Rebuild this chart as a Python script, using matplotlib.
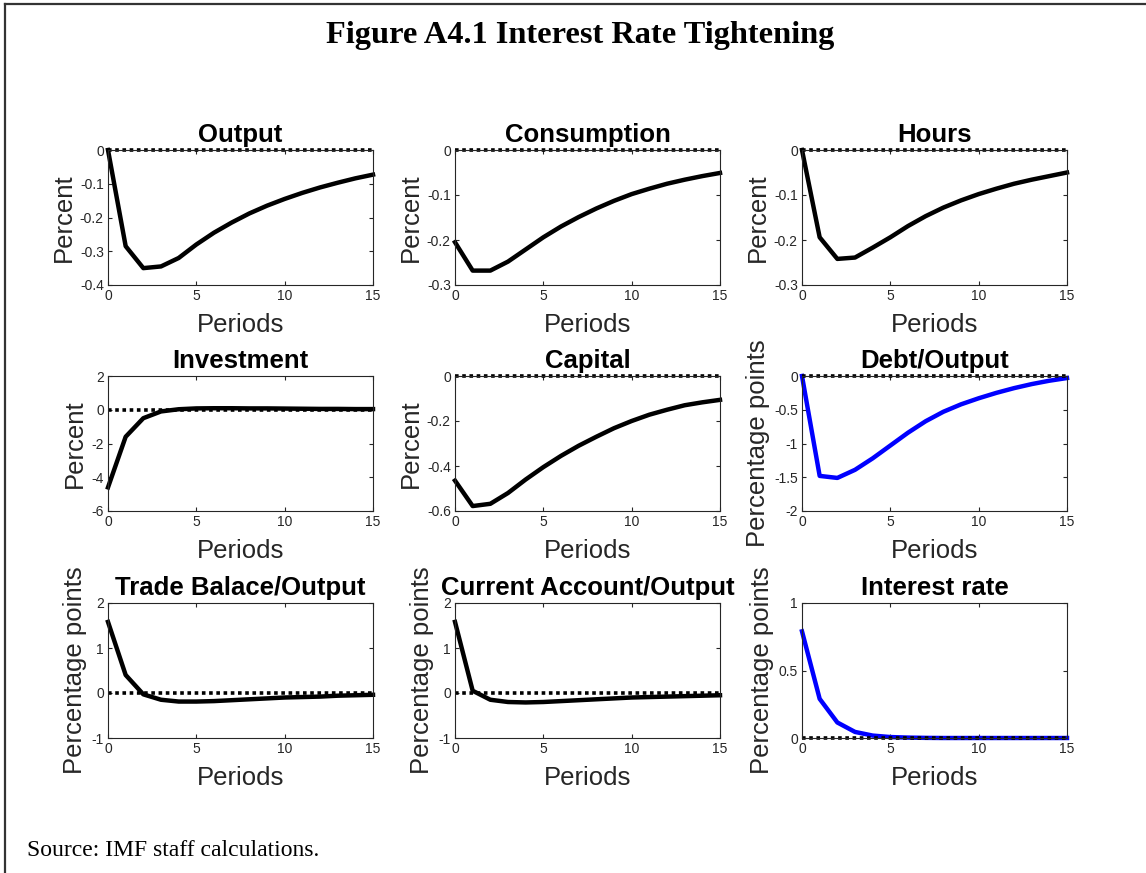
import matplotlib
matplotlib.use("Agg")
import matplotlib.pyplot as plt
from matplotlib.lines import Line2D
from matplotlib.ticker import FormatStrFormatter

plt.rcParams['font.family'] = ['Liberation Sans', 'DejaVu Sans']
plt.rcParams['axes.unicode_minus'] = False

# Periods after the shock
periods = list(range(16))

# Impulse responses
output = [0, -0.285, -0.35, -0.345, -0.32, -0.28, -0.245, -0.215, -0.188,
          -0.165, -0.145, -0.127, -0.111, -0.097, -0.084, -0.073]
consumption = [-0.205, -0.268, -0.268, -0.248, -0.221, -0.194, -0.17, -0.149,
               -0.13, -0.113, -0.098, -0.086, -0.075, -0.066, -0.058, -0.051]
hours = [0, -0.194, -0.242, -0.239, -0.217, -0.194, -0.169, -0.147, -0.128,
         -0.112, -0.098, -0.086, -0.075, -0.066, -0.058, -0.05]
investment = [-4.6, -1.6, -0.5, -0.1, 0.03, 0.08, 0.09, 0.09, 0.08, 0.08,
              0.07, 0.06, 0.05, 0.05, 0.04, 0.04]
capital = [-0.465, -0.578, -0.568, -0.52, -0.46, -0.405, -0.355, -0.31, -0.27,
           -0.232, -0.2, -0.172, -0.15, -0.13, -0.117, -0.106]
debt_output = [0, -1.48, -1.51, -1.39, -1.22, -1.03, -0.84, -0.67, -0.53,
               -0.42, -0.33, -0.25, -0.18, -0.12, -0.07, -0.03]
trade_balance = [1.58, 0.4, -0.03, -0.15, -0.19, -0.19, -0.18, -0.16, -0.14,
                 -0.12, -0.1, -0.09, -0.08, -0.06, -0.05, -0.04]
current_account = [1.58, 0.05, -0.15, -0.2, -0.21, -0.2, -0.18, -0.16, -0.14,
                   -0.12, -0.1, -0.09, -0.08, -0.07, -0.06, -0.05]
interest_rate = [0.79, 0.29, 0.115, 0.045, 0.018, 0.007, 0.003, 0.001, 0, 0,
                 0, 0, 0, 0, 0, 0]

series = [output, consumption, hours, investment, capital, debt_output,
          trade_balance, current_account, interest_rate]
titles = ["Output", "Consumption", "Hours", "Investment", "Capital",
          "Debt/Output", "Trade Balace/Output", "Current Account/Output",
          "Interest rate"]
ylabels = ["Percent"] * 5 + ["Percentage points"] * 4
yticks = [
    [-0.4, -0.3, -0.2, -0.1, 0],
    [-0.3, -0.2, -0.1, 0],
    [-0.3, -0.2, -0.1, 0],
    [-6, -4, -2, 0, 2],
    [-0.6, -0.4, -0.2, 0],
    [-2, -1.5, -1, -0.5, 0],
    [-1, 0, 1, 2],
    [-1, 0, 1, 2],
    [0, 0.5, 1],
]
colors = ["black"] * 5 + ["blue"] + ["black"] * 2 + ["blue"]

fig = plt.figure(figsize=(11.46, 8.73), dpi=100)

# axes placement in figure fractions (pixel layout of the original)
lefts = [108 / 1146, 455 / 1146, 802 / 1146]
bottoms = [1 - 285 / 873, 1 - 511 / 873, 1 - 738 / 873]
w = 265 / 1146
h = 135 / 873

tick_col = "#262626"
for i in range(9):
    r, c = divmod(i, 3)
    ax = fig.add_axes([lefts[c], bottoms[r], w, h])
    ax.plot(periods, series[i], color=colors[i], lw=3.2, clip_on=False)
    ax.plot([periods[0], periods[-1]], [0, 0], color="black", lw=2.6,
            linestyle=(0, (1, 1)), clip_on=False)
    ax.set_xlim(0, 15)
    ax.set_ylim(yticks[i][0], yticks[i][-1])
    ax.set_xticks([0, 5, 10, 15])
    ax.set_yticks(yticks[i])
    ax.yaxis.set_major_formatter(FormatStrFormatter('%g'))
    ax.tick_params(direction='in', length=3, width=0.8, labelsize=10,
                   colors=tick_col, top=True, right=True, pad=3)
    for s in ax.spines.values():
        s.set_color(tick_col)
        s.set_linewidth(0.8)
    ax.set_title(titles[i], fontsize=18.5, fontweight='bold', pad=6)
    ax.set_xlabel("Periods", fontsize=18.5, color=tick_col, labelpad=7)
    ax.set_ylabel(ylabels[i], fontsize=18.5, color=tick_col, labelpad=3)

fig.text(0.506, 0.959, "Figure A4.1 Interest Rate Tightening",
         family="Liberation Serif", fontweight="bold", fontsize=23.3,
         ha="center", va="center")
fig.text(27 / 1146, 1 - 851 / 873, "Source: IMF staff calculations.",
         family="Liberation Serif", fontsize=17, ha="left", va="center")

# page frame: top and left border
fig.add_artist(Line2D([5 / 1146, 1], [1 - 4 / 873, 1 - 4 / 873],
                      color="#333333", lw=1.6))
fig.add_artist(Line2D([5 / 1146, 5 / 1146], [0, 1 - 4 / 873],
                      color="#333333", lw=1.6))

fig.savefig("out.png", dpi=100)
